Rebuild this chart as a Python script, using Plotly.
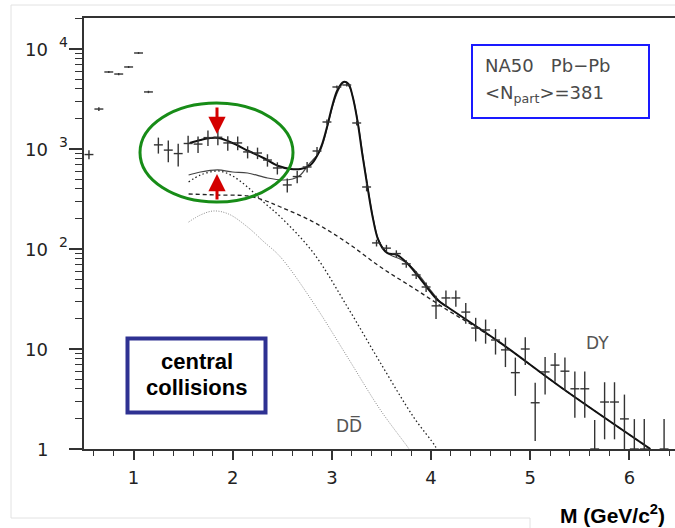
import plotly.graph_objects as go
import numpy as np

# ---------------- data ----------------
# measured dimuon mass spectrum (bin centres, counts, errors)
mass = [0.55, 0.65, 0.75, 0.85, 0.95, 1.05, 1.15,
        1.25, 1.35, 1.45, 1.55, 1.65, 1.75, 1.85, 1.95, 2.05, 2.15, 2.25, 2.35, 2.45, 2.55,
        2.65, 2.75, 2.85, 2.95, 3.05, 3.15, 3.25, 3.35, 3.45, 3.55, 3.65, 3.75, 3.85, 3.95,
        4.05, 4.15, 4.25, 4.35, 4.45, 4.55, 4.65, 4.75, 4.85, 4.95, 5.05, 5.15, 5.25, 5.35,
        5.45, 5.55, 5.65, 5.75, 5.85, 5.95, 6.05, 6.15, 6.35]
counts = [880, 2510, 5890, 5620, 6610, 9120, 3720,
          1100, 975, 900, 1135, 1120, 1300, 1310, 1150, 1150, 935, 912, 776, 646, 437,
          530, 661, 955, 1862, 4170, 4365, 1820, 417, 115, 102, 90, 71, 55, 41.7,
          27, 32.4, 32.4, 23.4, 16.2, 15.5, 12.3, 9.8, 5.8, 10, 2.9, 5.9, 6.9, 6.0,
          4.0, 4.0, 1.0, 2.95, 2.95, 2.0, 1.0, 1.0, 1.0]
count_err = [90, 110, 150, 150, 150, 200, 100,
             200, 240, 230, 220, 210, 230, 220, 190, 180, 130, 120, 110, 90, 70,
             75, 80, 90, 110, 150, 150, 100, 40, 9, 8, 7, 6, 5, 4.5,
             7, 6, 6, 5.5, 4.3, 4.2, 3.5, 3.2, 2.4, 3.1, 1.7, 2.4, 2.2, 2.2,
             1.95, 1.95, 0.95, 1.7, 1.7, 1.5, 0.99, 0.99, 0.99]
bin_half = 0.045

# total fit (with excess)
fit_m = [1.565, 1.675, 1.776, 1.857, 1.998, 2.159, 2.310, 2.462, 2.583, 2.683, 2.784,
         2.855, 2.905, 2.956, 3.006, 3.056, 3.117, 3.167, 3.208, 3.258, 3.308, 3.359,
         3.409, 3.460, 3.510, 3.560, 3.660, 3.760, 3.860, 3.964, 4.065, 4.166, 4.700,
         5.305, 6.212]
fit_v = [1148, 1230, 1288, 1288, 1148, 955, 813, 676, 631, 631, 692,
         871, 1148, 1738, 2754, 3890, 4677, 4467, 3388, 1905, 871, 417,
         214, 129, 102, 91, 87, 72, 55, 40.7, 30.9, 26.3, 11.5,
         4.17, 1.0]

# expected sources (no excess)
exp_m = [1.555, 1.675, 1.847, 1.998, 2.149, 2.351, 2.502, 2.603, 2.683, 2.754, 2.814,
         2.876, 2.926, 2.976, 3.027, 3.077, 3.127, 3.177, 3.218, 3.268, 3.318, 3.369,
         3.419, 3.470, 3.530, 3.590, 3.692, 3.792, 3.893, 3.994, 4.095, 4.166]
exp_v = [550, 589, 617, 589, 575, 513, 490, 501, 550, 676, 790,
         933, 1288, 2042, 3090, 4074, 4677, 4169, 3090, 1698, 776, 372,
         195, 123, 98, 87, 79, 67.6, 52.5, 38.9, 29.5, 26.3]

# open charm, enhanced
ddx_m = [1.555, 1.675, 1.857, 1.998, 2.149, 2.310, 2.482, 2.815, 3.157, 3.490, 3.823, 4.045, 4.065]
ddx_v = [468, 550, 603, 537, 417, 295, 209, 91, 26.3, 7.24, 2.09, 1.05, 0.93]

# open charm (DD-bar)
dd_m = [1.555, 1.675, 1.806, 1.957, 2.149, 2.310, 2.482, 2.815, 3.157, 3.490, 3.772, 3.792]
dd_v = [186, 219, 240, 224, 166, 119, 83, 28.8, 8.3, 2.45, 1.02, 0.95]

# Drell-Yan
dy_m = [1.555, 1.827, 2.149, 2.310, 2.482, 2.815, 3.157, 3.490, 3.823, 4.166, 4.498, 4.700, 5.305, 6.212]
dy_v = [355, 347, 339, 309, 263, 186, 115, 66, 40.7, 24.5, 15.5, 11.5, 4.17, 1.0]

x_ticks = [1, 2, 3, 4, 5, 6]
y_tick_vals = [1, 10, 100, 1000, 10000]
y_tick_base = ["1", "10", "10", "10", "10"]
y_tick_exp = ["", "", "2", "3", "4"]

# ---------------- layout helpers ----------------
W, H = 675, 528
L, R, T, B = 84, 675, 18, 449


def P(px):
    return (px - L) / (R - L)


def Q(py):
    return (B - py) / (B - T)


ROOT_FONT = "DejaVu Sans"

fig = go.Figure()

# curves
fig.add_trace(go.Scatter(x=dd_m, y=dd_v, mode="lines", line=dict(color="#8a8a8a", width=1, dash="1px,1.5px", shape="spline"), hoverinfo="skip"))
fig.add_trace(go.Scatter(x=ddx_m, y=ddx_v, mode="lines", line=dict(color="#222", width=1.3, dash="1.5px,2.5px", shape="spline"), hoverinfo="skip"))
fig.add_trace(go.Scatter(x=dy_m, y=dy_v, mode="lines", line=dict(color="#222", width=1.3, dash="4px,3px", shape="spline"), hoverinfo="skip"))
fig.add_trace(go.Scatter(x=exp_m, y=exp_v, mode="lines", line=dict(color="#444", width=1.2, shape="spline"), hoverinfo="skip"))
fig.add_trace(go.Scatter(x=fit_m, y=fit_v, mode="lines", line=dict(color="#111", width=2, shape="spline"), hoverinfo="skip"))

# data points
fig.add_trace(go.Scatter(
    x=mass, y=counts, mode="markers",
    marker=dict(size=1, color="rgba(0,0,0,0)"),
    error_x=dict(type="constant", value=bin_half, width=0, thickness=1.4, color="#333"),
    error_y=dict(type="data", array=count_err, width=0, thickness=1.4, color="#333"),
))

shapes = []
# faint slide frame
for (x0, y0, x1, y1) in [(11, 5, 675, 5), (11, 5, 11, 518), (11, 518, 530, 518), (530, 518, 530, 528)]:
    shapes.append(dict(type="line", xref="paper", yref="paper", x0=P(x0), y0=Q(y0), x1=P(x1), y1=Q(y1),
                       line=dict(color="#e2e2e2", width=1)))
# green ellipse
shapes.append(dict(type="circle", xref="paper", yref="paper", x0=P(140), x1=P(293), y0=Q(202), y1=Q(103),
                   line=dict(color="#178c17", width=3)))
# NA50 box
shapes.append(dict(type="rect", xref="paper", yref="paper", x0=P(472), x1=P(649), y0=Q(118), y1=Q(45),
                   line=dict(color="#1a1aff", width=2)))
# central collisions box
shapes.append(dict(type="rect", xref="paper", yref="paper", x0=P(127.5), x1=P(265.5), y0=Q(412.5), y1=Q(338.5),
                   line=dict(color="#2e3192", width=4), fillcolor="white"))

ann = []
# y tick labels (ROOT style: base right-aligned, exponent hanging)
for v, b, e in zip(y_tick_vals, y_tick_base, y_tick_exp):
    ann.append(dict(xref="paper", yref="y", x=P(50), y=np.log10(v), text=b, showarrow=False,
                    xanchor="right", yanchor="middle", font=dict(family=ROOT_FONT, size=18, color="#222")))
    if e:
        ann.append(dict(xref="paper", yref="y", x=P(57), y=np.log10(v), text=e, showarrow=False,
                        xanchor="left", yanchor="middle", yshift=7,
                        font=dict(family=ROOT_FONT, size=14, color="#222")))

ann += [
    dict(xref="paper", yref="paper", x=P(483), y=Q(65), text="NA50   Pb\u2212Pb", showarrow=False,
         xanchor="left", yanchor="middle", font=dict(family=ROOT_FONT, size=18, color="#4a4a4a")),
    dict(xref="paper", yref="paper", x=P(483), y=Q(94), text="<N<sub>part</sub>>=381", showarrow=False,
         xanchor="left", yanchor="middle", font=dict(family=ROOT_FONT, size=18, color="#4a4a4a")),
    dict(xref="paper", yref="paper", x=P(196.5), y=Q(361), text="<b>central</b>", showarrow=False,
         xanchor="center", yanchor="middle", font=dict(family="Liberation Sans", size=22, color="black")),
    dict(xref="paper", yref="paper", x=P(196.5), y=Q(387), text="<b>collisions</b>", showarrow=False,
         xanchor="center", yanchor="middle", font=dict(family="Liberation Sans", size=22, color="black")),
    dict(xref="paper", yref="paper", x=P(597), y=Q(343), text="DY", showarrow=False,
         xanchor="center", yanchor="middle", font=dict(family=ROOT_FONT, size=17, color="#555")),
    dict(xref="paper", yref="paper", x=P(349), y=Q(425), text="DD\u0305", showarrow=False,
         xanchor="center", yanchor="middle", font=dict(family=ROOT_FONT, size=17, color="#555")),
    dict(xref="paper", yref="paper", x=P(667), y=Q(514), text="<b>M (GeV/c<sup>2</sup>)</b>", showarrow=False,
         xanchor="right", yanchor="middle", font=dict(family="Liberation Sans", size=21, color="black")),
    # red arrows
    dict(xref="paper", yref="paper", x=P(217), y=Q(134), ax=0, ay=-28, text="", showarrow=True,
         arrowhead=2, arrowsize=1.15, arrowwidth=3, arrowcolor="#d40000", standoff=0),
    dict(xref="paper", yref="paper", x=P(217), y=Q(174), ax=0, ay=27, text="", showarrow=True,
         arrowhead=2, arrowsize=1.15, arrowwidth=3, arrowcolor="#d40000", standoff=0),
]

fig.update_layout(
    width=W, height=H, autosize=False,
    margin=dict(l=L, r=W - R, t=T, b=H - B, pad=0),
    paper_bgcolor="white", plot_bgcolor="white",
    showlegend=False,
    shapes=shapes, annotations=ann,
)
fig.update_xaxes(
    range=[0.5, 6.46], showgrid=False, zeroline=False,
    showline=True, linecolor="#333", linewidth=1.6, mirror=True,
    tickmode="array", tickvals=x_ticks, ticks="outside", ticklen=9, tickwidth=1.5, tickcolor="#333",
    ticklabelstandoff=3,
    tickfont=dict(family=ROOT_FONT, size=18, color="#222"),
    minor=dict(ticks="outside", ticklen=5, tickwidth=1.3, tickcolor="#333", dtick=0.2, tick0=0, showgrid=False),
)
fig.update_yaxes(
    type="log", range=[0, 4.31], showgrid=False, zeroline=False,
    showline=True, linecolor="#333", linewidth=1.6,
    tickmode="array", tickvals=y_tick_vals, ticks="outside", ticklen=13, tickwidth=1.5, tickcolor="#333",
    showticklabels=False,
    minor=dict(ticks="outside", ticklen=7, tickwidth=1.2, tickcolor="#333", dtick="D1", showgrid=False),
)

fig.write_html(
    "out.html",
    config={"displayModeBar": False},
    post_script="document.body.style.margin='0';document.body.style.overflow='hidden';",
)
